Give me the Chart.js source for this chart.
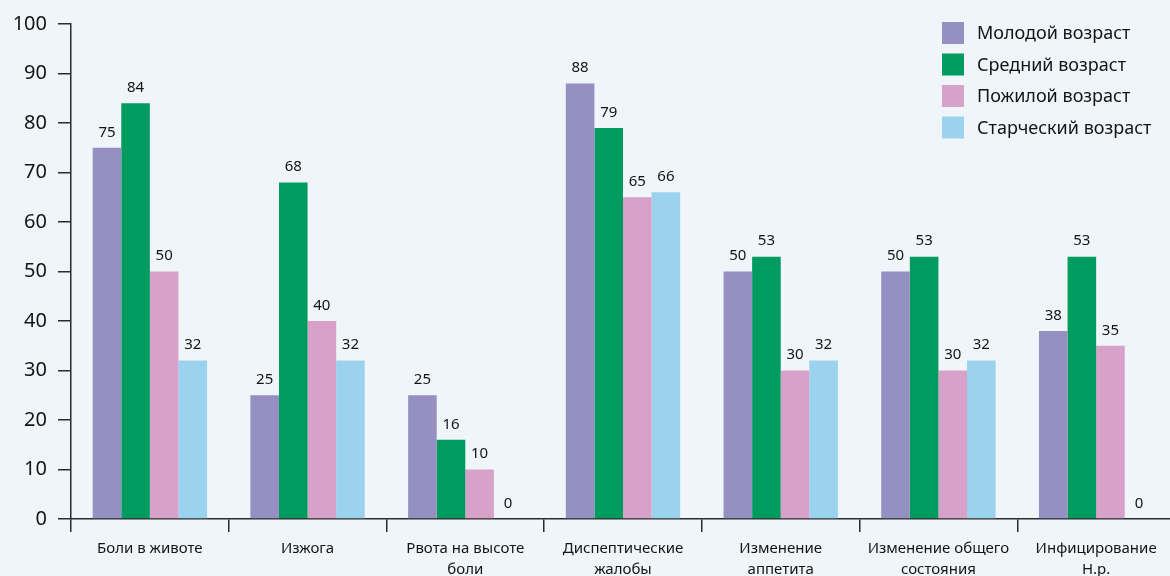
<!DOCTYPE html>
<html lang="ru">
<head>
<meta charset="utf-8">
<title>Симптомы по возрастным группам</title>
<script src="https://cdn.jsdelivr.net/npm/chart.js@4.4.1/dist/chart.umd.min.js"></script>
<style>
  html, body { margin: 0; padding: 0; background: #eff5f9; overflow: hidden; }
  #wrap { width: 1170px; height: 576px; position: relative; overflow: hidden; }
</style>
</head>
<body>
<div id="wrap"><canvas id="symptomChart" width="1175" height="576"></canvas></div>
<script>
const categories = [
  ["Боли в животе"],
  ["Изжога"],
  ["Рвота на высоте", "боли"],
  ["Диспептические", "жалобы"],
  ["Изменение", "аппетита"],
  ["Изменение общего", "состояния"],
  ["Инфицирование", "H.p."]
];
const seriesNames = ["Молодой возраст", "Средний возраст", "Пожилой возраст", "Старческий возраст"];
const young = [75, 25, 25, 88, 50, 50, 38];
const middle = [84, 68, 16, 79, 53, 53, 53];
const elderly = [50, 40, 10, 65, 30, 30, 35];
const senile = [32, 32, 0, 66, 32, 32, 0];
const yTicks = [0, 10, 20, 30, 40, 50, 60, 70, 80, 90, 100];

const colors = ["#958fc2", "#009b5f", "#d7a1c9", "#9bd3ef"];
const axisColor = "#2b2b2b";
const textColor = "#141414";
const fontFamily = "'Noto Sans', 'Open Sans', sans-serif";

// values printed above each bar
const valueLabels = {
  id: "valueLabels",
  afterDatasetsDraw(chart) {
    const ctx = chart.ctx;
    ctx.save();
    ctx.font = "15px " + fontFamily;
    ctx.fillStyle = textColor;
    ctx.textAlign = "center";
    ctx.textBaseline = "bottom";
    chart.data.datasets.forEach((ds, i) => {
      chart.getDatasetMeta(i).data.forEach((bar, j) => {
        ctx.fillText(String(ds.data[j]), bar.x, bar.y - 8);
      });
    });
    ctx.restore();
  }
};

// legend block in the top right corner
const cornerLegend = {
  id: "cornerLegend",
  afterDraw(chart) {
    const ctx = chart.ctx;
    const x = 942, y0 = 22, step = 31.5, box = 22;
    ctx.save();
    ctx.font = "18px " + fontFamily;
    ctx.textBaseline = "middle";
    ctx.textAlign = "left";
    chart.data.datasets.forEach((ds, i) => {
      const y = y0 + i * step;
      ctx.fillStyle = ds.backgroundColor;
      ctx.fillRect(x, y, box, box);
      ctx.fillStyle = textColor;
      ctx.fillText(ds.label, x + 35, y + box / 2 + 1);
    });
    ctx.restore();
  }
};

const bgFill = {
  id: "bgFill",
  beforeDraw(chart) {
    const ctx = chart.ctx;
    ctx.save();
    ctx.fillStyle = "#eff5f9";
    ctx.fillRect(0, 0, chart.width, chart.height);
    ctx.restore();
  }
};

document.addEventListener("DOMContentLoaded", function () {
  const ctx = document.getElementById("symptomChart").getContext("2d");
  const seriesData = [young, middle, elderly, senile];

  new Chart(ctx, {
    type: "bar",
    data: {
      labels: categories,
      datasets: seriesData.map((values, i) => ({
        label: seriesNames[i],
        data: values,
        backgroundColor: colors[i],
        borderWidth: 0,
        barPercentage: 1,
        categoryPercentage: 0.725
      }))
    },
    options: {
      responsive: false,
      animation: false,
      layout: { padding: { top: 24, right: 0, left: 0, bottom: 0 } },
      plugins: {
        legend: { display: false },
        tooltip: { enabled: false }
      },
      scales: {
        x: {
          grid: {
            offset: true,
            drawOnChartArea: false,
            drawTicks: true,
            tickLength: 13,
            color: axisColor,
            lineWidth: 1.5
          },
          border: { color: axisColor, width: 1.5 },
          ticks: {
            color: textColor,
            padding: 6,
            maxRotation: 0,
            autoSkip: false,
            font: { family: fontFamily, size: 15, lineHeight: 1.4 }
          },
          afterFit(scale) { scale.height = 57; }
        },
        y: {
          min: 0,
          max: 100,
          afterBuildTicks(scale) { scale.ticks = yTicks.map(v => ({ value: v })); },
          grid: {
            drawOnChartArea: false,
            drawTicks: true,
            tickLength: 13,
            color: axisColor,
            lineWidth: 1.5
          },
          border: { color: axisColor, width: 1.5 },
          ticks: {
            color: textColor,
            padding: 11,
            font: { family: fontFamily, size: 20 }
          },
          afterFit(scale) { scale.width = 71; }
        }
      }
    },
    plugins: [bgFill, valueLabels, cornerLegend]
  });
});
</script>
</body>
</html>
